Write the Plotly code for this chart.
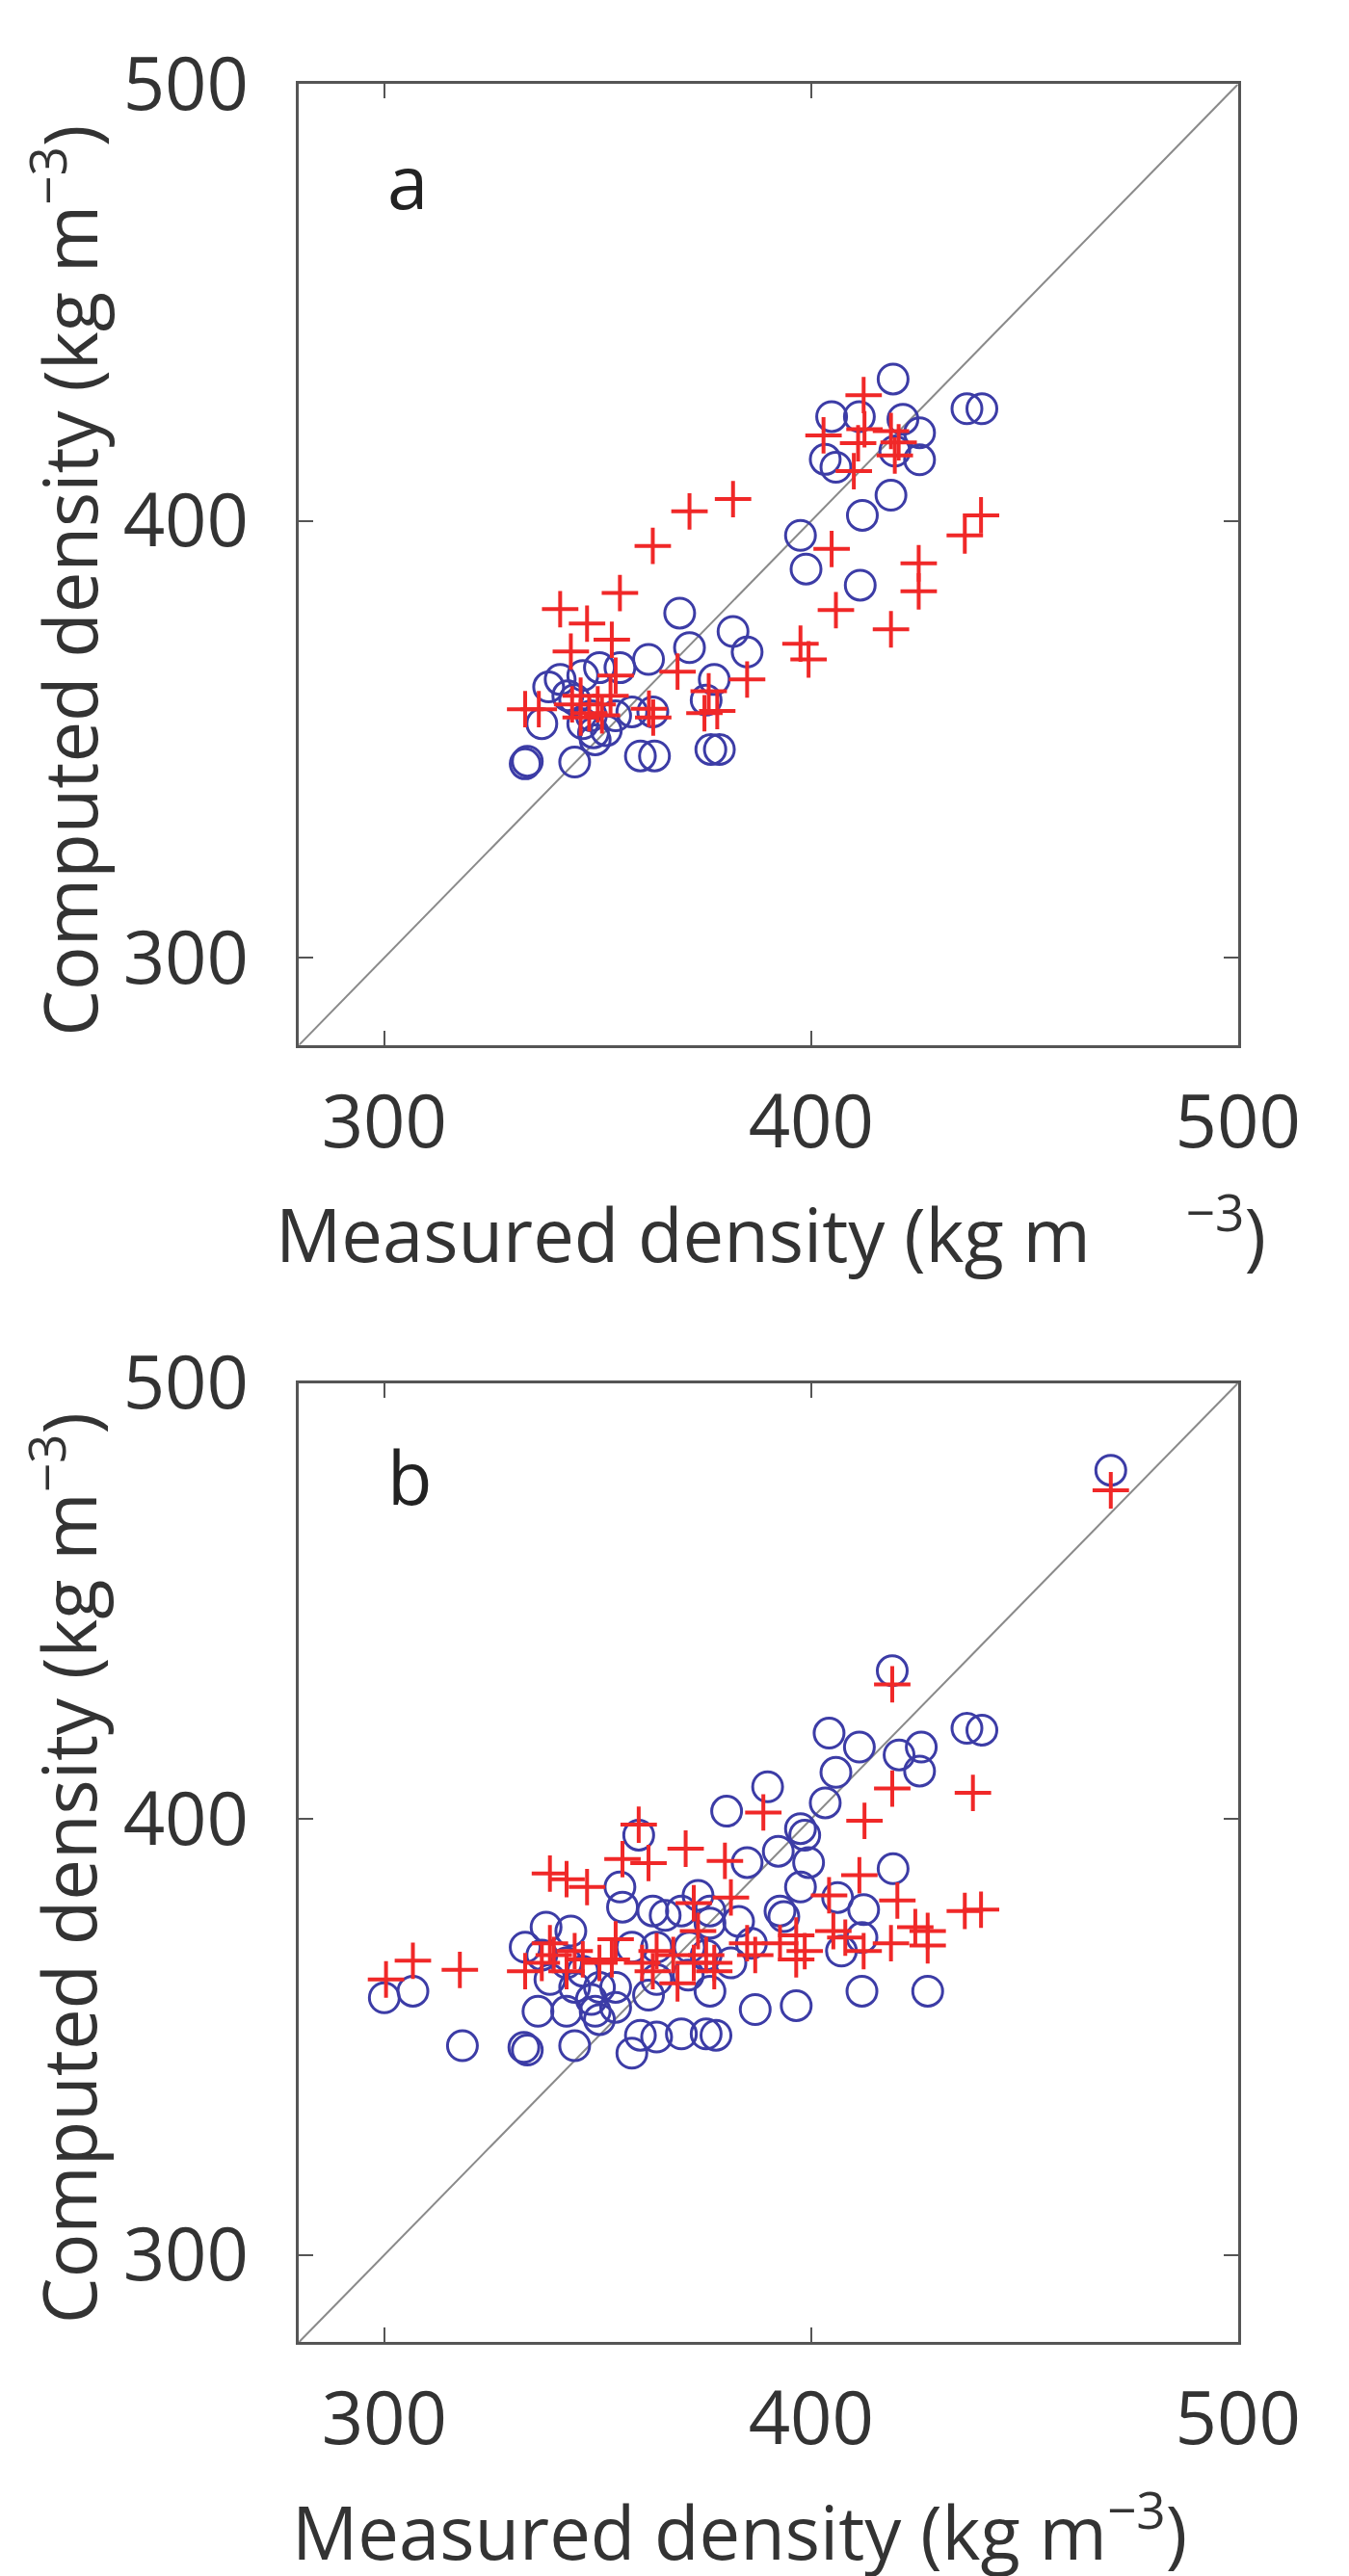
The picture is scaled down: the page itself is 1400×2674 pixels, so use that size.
import plotly.graph_objects as go

# panel a: measured vs computed density
a_circ_x = [419.2, 436.5, 440.0, 404.8, 411.3, 421.5, 425.4, 403.3, 405.8, 419.6, 425.4, 412.0, 418.7,
            397.5, 398.8, 411.5, 369.2, 371.5, 381.7, 385.0, 377.3, 361.9, 375.4, 376.5, 378.5, 360.0,
            363.3, 333.0, 333.5, 344.6, 341.2, 346.5, 350.4, 355.2, 336.9, 344.6, 349.4, 354.2, 358.0,
            362.9, 348.5, 346.5, 338.5, 343.0, 352.0, 349.0]
a_circ_y = [432.5, 425.7, 425.7, 423.9, 423.9, 423.3, 420.2, 414.1, 412.3, 416.0, 414.0, 401.3, 405.9,
            396.7, 389.0, 385.3, 378.9, 371.0, 374.7, 370.0, 363.7, 368.3, 359.0, 347.7, 347.7, 346.2,
            346.2, 344.4, 345.0, 344.8, 363.7, 364.6, 366.4, 366.4, 353.6, 359.1, 349.9, 355.4, 356.3,
            356.3, 355.4, 353.6, 362.0, 360.0, 352.0, 351.5]
a_plus_x = [412.3, 402.9, 411.0, 410.0, 418.7, 419.6, 381.7, 371.5, 439.8, 436.0, 362.9, 404.8, 425.2,
            425.2, 355.2, 341.2, 347.5, 405.8, 418.7, 353.3, 397.5, 399.4, 343.7, 368.7, 385.0, 354.2,
            333.0, 336.2, 344.0, 346.0, 348.0, 350.0, 353.0, 346.0, 351.0, 362.0, 363.0, 376.0, 375.0,
            378.0, 420.5, 412.5]
a_plus_y = [428.8, 419.6, 417.8, 411.4, 420.6, 415.0, 405.0, 402.2, 401.3, 396.7, 394.3, 393.6, 390.3,
            383.9, 383.5, 379.8, 376.5, 379.6, 375.2, 372.8, 371.9, 368.3, 370.1, 365.5, 363.7, 364.6,
            356.9, 356.9, 358.0, 360.0, 356.0, 358.0, 360.0, 355.0, 355.5, 357.0, 355.0, 361.0, 356.0,
            356.5, 418.0, 421.0]

# panel b
b_circ_x = [470.2, 419.0, 436.5, 440.0, 404.2, 411.3, 420.6, 425.8, 425.4, 405.8, 389.8, 403.3, 380.2,
            397.5, 398.5, 359.6, 392.3, 385.0, 399.4, 419.2, 397.5, 355.2, 355.8, 406.2, 373.5, 369.6,
            362.9, 365.8, 376.3, 376.3, 392.7, 393.6, 412.3, 383.0, 337.9, 343.7, 411.9, 407.1, 386.0,
            333.0, 336.9, 358.0, 363.8, 371.5, 375.4, 381.2, 342.7, 346.5, 338.8, 344.6, 350.4, 354.2,
            363.8, 361.9, 371.2, 376.3, 300.0, 306.7, 411.9, 427.3, 348.5, 349.4, 350.4, 336.0, 342.7,
            386.9, 396.5, 354.2, 360.0, 363.8, 369.6, 375.4, 377.7, 318.3, 332.7, 333.5, 344.6, 358.0]
b_circ_y = [480.0, 434.0, 420.8, 420.4, 419.7, 416.5, 414.7, 416.5, 411.0, 410.7, 407.4, 403.7, 401.8,
            397.8, 396.3, 396.3, 392.6, 390.0, 390.0, 388.6, 384.4, 384.4, 379.8, 382.0, 382.5, 378.9,
            378.9, 377.9, 378.9, 376.1, 378.9, 377.6, 379.2, 376.5, 375.2, 374.3, 372.8, 369.7, 371.5,
            370.6, 368.8, 370.6, 370.6, 370.6, 368.8, 367.0, 367.0, 365.1, 363.2, 361.4, 361.4, 361.4,
            363.2, 359.6, 364.2, 360.5, 359.0, 360.5, 360.5, 360.5, 358.6, 355.9, 354.0, 355.9, 355.9,
            356.3, 357.2, 356.8, 350.4, 350.0, 350.7, 350.7, 350.4, 348.0, 347.6, 347.0, 348.0, 346.3]
b_plus_x = [470.2, 419.0, 419.0, 437.9, 388.8, 412.5, 359.6, 370.6, 379.8, 355.8, 361.9, 338.8, 342.7,
            347.5, 411.3, 404.2, 420.2, 381.2, 372.5, 436.0, 439.8, 424.4, 427.3, 405.2, 408.0, 418.7,
            427.3, 396.5, 392.7, 398.5, 396.5, 412.3, 385.0, 386.9, 373.5, 375.4, 377.3, 372.5, 363.8,
            367.7, 362.9, 354.2, 353.3, 346.5, 350.4, 342.7, 338.8, 336.9, 333.0, 339.7, 344.6, 300.4,
            306.7, 317.7, 368.7, 377.3, 360.4]
b_plus_y = [475.4, 430.9, 407.0, 406.0, 401.5, 399.6, 398.7, 393.2, 390.4, 390.8, 389.9, 387.5, 386.2,
            384.4, 387.1, 382.5, 381.3, 382.0, 380.7, 378.9, 379.2, 375.2, 374.3, 374.3, 372.8, 371.5,
            371.0, 373.3, 371.5, 369.7, 367.8, 369.7, 371.5, 368.8, 374.3, 368.8, 367.0, 367.0, 369.7,
            368.8, 365.1, 372.4, 367.8, 367.8, 367.0, 365.1, 371.5, 367.0, 365.1, 368.8, 369.7, 363.2,
            367.5, 365.4, 362.3, 365.1, 367.0]

one_to_one = [280, 500]
tick_vals = [300, 400, 500]
panel_labels = ["a", "b"]

FONT = "Open Sans"
BLUE = "#3c3ca6"
RED = "#f02828"
AXIS = "#555555"

fig = go.Figure()

panels = [(a_circ_x, a_circ_y, a_plus_x, a_plus_y, "x", "y"),
          (b_circ_x, b_circ_y, b_plus_x, b_plus_y, "x2", "y2")]

for cx, cy, px_, py_, xa, ya in panels:
    fig.add_trace(go.Scatter(x=one_to_one, y=one_to_one, mode="lines", xaxis=xa, yaxis=ya,
                             line=dict(color="#8a8a8a", width=2), showlegend=False, hoverinfo="skip"))
    fig.add_trace(go.Scatter(x=cx, y=cy, mode="markers", xaxis=xa, yaxis=ya, showlegend=False,
                             marker=dict(symbol="circle-open", size=31, color=BLUE,
                                         line=dict(width=3, color=BLUE))))
    fig.add_trace(go.Scatter(x=px_, y=py_, mode="markers", xaxis=xa, yaxis=ya, showlegend=False,
                             marker=dict(symbol="cross-thin-open", size=27, color=RED,
                                         line=dict(width=4, color=RED))))

ax_common = dict(range=[280, 500], tickvals=tick_vals, ticks="inside", ticklen=15, tickwidth=2,
                 tickcolor=AXIS, showline=True, linecolor=AXIS, linewidth=3, mirror="ticks",
                 showgrid=False, zeroline=False, ticklabeloverflow="allow",
                 tickfont=dict(family=FONT, size=76, color="#333333"))

x_dom = [0.2264, 0.9564]
fig.update_layout(
    width=1400, height=2674,
    margin=dict(l=0, r=0, t=0, b=0),
    paper_bgcolor="white", plot_bgcolor="white",
    xaxis=dict(domain=x_dom, anchor="y", ticklabelstandoff=12, **ax_common),
    yaxis=dict(domain=[0.6096, 0.9903], anchor="x", ticklabelstandoff=34, **ax_common),
    xaxis2=dict(domain=x_dom, anchor="y2", ticklabelstandoff=12, **ax_common),
    yaxis2=dict(domain=[0.0957, 0.4757], anchor="x2", ticklabelstandoff=34, **ax_common),
)

title_font = dict(family=FONT, size=76, color="#333333")
nb = "\u00a0"
fig.add_annotation(text="Measured density (kg m" + nb * 5 + "<sup>−3</sup>)", xref="paper", yref="paper",
                   x=0.593, y=0.5363, showarrow=False, font=title_font, xanchor="center", yanchor="middle")
fig.add_annotation(text="Measured density (kg m<sup>−3</sup>)", xref="paper", yref="paper",
                   x=0.569, y=0.0225, showarrow=False, font=title_font, xanchor="center", yanchor="middle")
fig.add_annotation(text="Computed density (kg m<sup>−3</sup>)", xref="paper", yref="paper",
                   x=0.044, y=0.7935, showarrow=False, font=title_font, textangle=-90,
                   xanchor="center", yanchor="middle")
fig.add_annotation(text="Computed density (kg m<sup>−3</sup>)", xref="paper", yref="paper",
                   x=0.044, y=0.2834, showarrow=False, font=title_font, textangle=-90,
                   xanchor="center", yanchor="middle")

fig.add_annotation(text=panel_labels[0], xref="x", yref="y", x=305.5, y=478, showarrow=False,
                   font=dict(family=FONT, size=76, color="#222222"))
fig.add_annotation(text=panel_labels[1], xref="x2", yref="y2", x=306, y=478.5, showarrow=False,
                   font=dict(family=FONT, size=76, color="#222222"))

fig.write_html("out.html")
